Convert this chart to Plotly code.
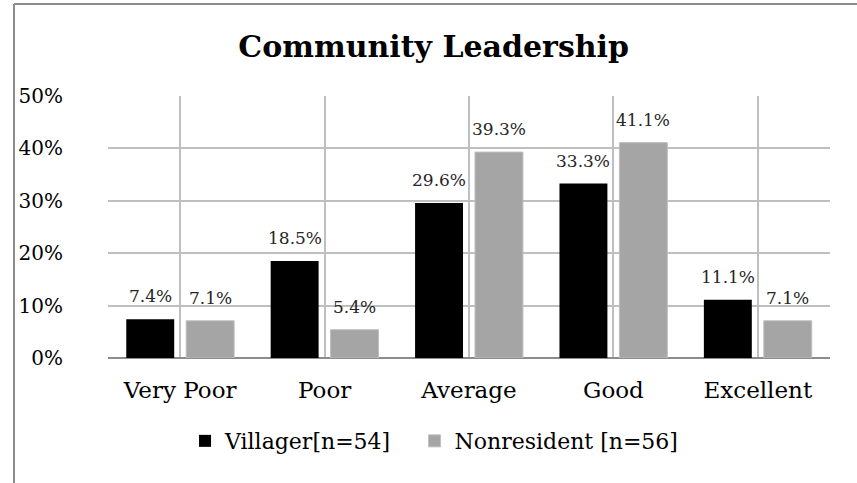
import plotly.graph_objects as go

categories = ["Very Poor", "Poor", "Average", "Good", "Excellent"]
villager = [7.4, 18.5, 29.6, 33.3, 11.1]
nonresident = [7.1, 5.4, 39.3, 41.1, 7.1]
y_ticks = [0, 10, 20, 30, 40, 50]
y_tick_labels = ["0%", "10%", "20%", "30%", "40%", "50%"]

FONT = "DejaVu Serif"

fig = go.Figure()

fig.add_trace(go.Bar(
    x=categories,
    y=villager,
    # non-breaking spaces widen the gap before the second legend item
    name="Villager[n=54]\u00a0\u00a0\u2009",
    marker=dict(color="#000000", line=dict(width=0)),
))
fig.add_trace(go.Bar(
    x=categories,
    y=nonresident,
    name="Nonresident [n=56]",
    marker=dict(color="#A5A5A5", line=dict(color="#BFBFBF", width=1)),
))

# data labels sit a bit higher above the bars than plotly's outside text does
for values, shift in [(villager, -30), (nonresident, 30)]:
    for cat, v in zip(categories, values):
        fig.add_annotation(
            x=cat, y=v, text=f"{v:.1f}%",
            showarrow=False, xshift=shift, yshift=11,
            yanchor="bottom",
            font=dict(family=FONT, size=17, color="#262626"),
        )

# outer chart border (top and left edges visible)
border = dict(color="#8C8C8C", width=2)
fig.add_shape(type="line", xref="paper", yref="paper",
              x0=-0.1302, x1=1.04, y0=1.351, y1=1.351, line=border)
fig.add_shape(type="line", xref="paper", yref="paper",
              x0=-0.1302, x1=-0.1302, y0=1.351, y1=-0.5, line=border)

fig.update_layout(
    width=857,
    height=483,
    margin=dict(l=108, r=27, t=96, b=125, autoexpand=False),
    plot_bgcolor="white",
    paper_bgcolor="white",
    font=dict(family=FONT, color="#000000"),
    title=dict(
        text="<b>Community Leadership</b>",
        font=dict(family=FONT, size=30, color="#000000"),
        x=0.506, xanchor="center",
        y=0.903, yref="container", yanchor="middle",
    ),
    barmode="group",
    bargap=0.17,
    bargroupgap=0.2,
    showlegend=True,
    legend=dict(
        orientation="h",
        x=0.1067, xanchor="left",
        y=-0.317, yanchor="middle",
        font=dict(family=FONT, size=22, color="#000000"),
        itemwidth=30,
    ),
    xaxis=dict(
        automargin=False,
        showgrid=True,
        gridcolor="#BFBFBF",
        gridwidth=2,
        tickfont=dict(family=FONT, size=23, color="#000000"),
        ticklabelstandoff=16,
        showline=False,
        zeroline=False,
    ),
    yaxis=dict(
        automargin=False,
        range=[0, 50],
        tickvals=y_ticks,
        ticktext=y_tick_labels,
        showgrid=True,
        gridcolor="#BFBFBF",
        gridwidth=2,
        zeroline=True,
        zerolinecolor="#8C8C8C",
        zerolinewidth=2,
        tickfont=dict(family=FONT, size=20, color="#000000"),
        ticklabelstandoff=44,
    ),
)

# drop the browser's default page margin so the figure sits at (0, 0)
fig.write_html("out.html", config={"displayModeBar": False},
               post_script="document.body.style.margin='0';")
